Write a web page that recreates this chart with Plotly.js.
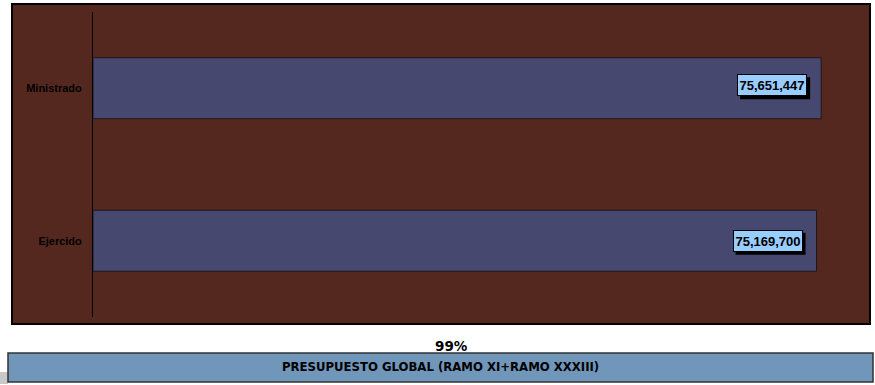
<!DOCTYPE html>
<html>
<head>
<meta charset="utf-8">
<script src="https://cdn.plot.ly/plotly-3.0.1.min.js"></script>
<style>html,body{margin:0;padding:0;background:#fff;}#chart{width:875px;height:385px;}</style>
</head>
<body>
<div id="chart"></div>
<script>
const categories = ["Ejercido", "Ministrado"];
const values = [75169700, 75651447];
const valueLabels = ["75,169,700", "75,651,447"];
const percentLabel = "99%";
const footerTitle = "PRESUPUESTO GLOBAL (RAMO XI+RAMO XXXIII)";

const trace = {
  type: "bar",
  orientation: "h",
  y: categories,
  x: values,
  width: 0.4,
  marker: { color: "#47486F", line: { color: "#1a1a1a", width: 1 } },
  hoverinfo: "none"
};

const labelShift = [0, 3];
const annotations = [];
const shadowShapes = [];
categories.forEach((c, i) => {
  shadowShapes.push({
    type: "rect", layer: "above",
    xref: "x", yref: "y",
    xsizemode: "pixel", ysizemode: "pixel",
    xanchor: values[i], yanchor: i,
    x0: -49 - 35 + 3, x1: -49 + 35 + 3,
    y0: labelShift[i] - 11 - 3, y1: labelShift[i] + 11 - 3,
    fillcolor: "#000", line: { width: 0 }
  });
  annotations.push({
    x: values[i], y: c, xref: "x", yref: "y",
    text: valueLabels[i], showarrow: false,
    xanchor: "center", xshift: -49, yshift: labelShift[i],
    width: 68, height: 20,
    font: { family: "Liberation Sans", size: 13, color: "#000", weight: 700 },
    bgcolor: "#99CCFF", bordercolor: "#000", borderwidth: 1, borderpad: 0
  });
});
annotations.push({
  x: 0.465, y: -0.095, xref: "paper", yref: "paper",
  text: "<b>" + percentLabel + "</b>", showarrow: false,
  xanchor: "center", yanchor: "middle",
  font: { family: "DejaVu Sans", size: 13.5, color: "#000" }
});
annotations.push({
  x: 0.4519, y: -0.1639, xref: "paper", yref: "paper",
  text: "<b>" + footerTitle + "</b>", showarrow: false,
  xanchor: "center", yanchor: "middle",
  font: { family: "DejaVu Sans", size: 11.7, color: "#000" }
});

const layout = {
  width: 875, height: 385,
  margin: { l: 93, r: 12, t: 12, b: 68, pad: 0 },
  paper_bgcolor: "#ffffff",
  plot_bgcolor: "#55281F",
  showlegend: false,
  bargap: 0.6,
  xaxis: {
    range: [0, 80000000], showgrid: false, zeroline: false,
    showline: false, showticklabels: false, ticks: "", fixedrange: true
  },
  yaxis: {
    type: "category", showgrid: false, zeroline: false,
    showline: true, linecolor: "#000", linewidth: 1,
    ticks: "", ticklabelstandoff: 8,
    tickfont: { family: "Liberation Sans", size: 11, color: "#000", weight: 700 },
    fixedrange: true
  },
  shapes: [
    { type: "rect", xref: "paper", yref: "paper", layer: "below",
      x0: -0.1052, x1: 1.0091, y0: -0.023, y1: 1.0262,
      fillcolor: "#55281F", line: { color: "#000", width: 2 } },
    { type: "path", xref: "paper", yref: "paper", layer: "below",
      path: "M -0.1208 -0.1803 L -0.1104 -0.1803 L -0.1104 -0.2196 L -0.1208 -0.2196 Z",
      fillcolor: "#C8C8C8", line: { width: 0 } },
    { type: "rect", xref: "paper", yref: "paper", layer: "above",
      x0: -0.1104, x1: 1.013, y0: -0.2131, y1: -0.118,
      fillcolor: "#7096BA", line: { color: "#333", width: 1.5 } }
  ].concat(shadowShapes),
  annotations: annotations
};

Plotly.newPlot("chart", [trace], layout, { displayModeBar: false, staticPlot: true });
</script>
</body>
</html>
